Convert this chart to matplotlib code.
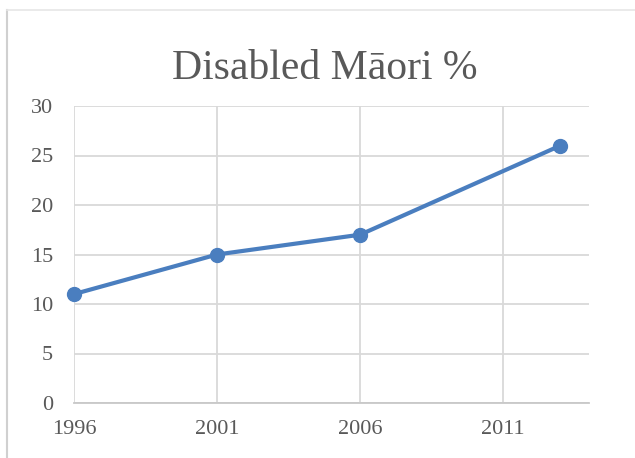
import matplotlib
matplotlib.use("Agg")
import matplotlib.pyplot as plt
from matplotlib.lines import Line2D

years = [1996, 2001, 2006, 2013]
values = [11, 15, 17, 26]
xticks = [1996, 2001, 2006, 2011]
yticks = [0, 5, 10, 15, 20, 25, 30]
title = "Disabled Māori %"

W, H = 635, 458
fig = plt.figure(figsize=(W / 100, H / 100), dpi=100)
fig.patch.set_facecolor("white")

# chart-area border
fig.add_artist(Line2D([7 / W, 7 / W], [0, 1 - 10 / H], transform=fig.transFigure, color="#d0d0d0", lw=1.5))
fig.add_artist(Line2D([7 / W, 1], [1 - 10 / H, 1 - 10 / H], transform=fig.transFigure, color="#e6e6e6", lw=1.2))

ax = fig.add_axes([74 / W, (H - 403) / H, (589 - 74) / W, (403 - 106) / H])
ax.plot(years, values, color="#4a7ebf", lw=3.0, marker="o", markersize=10,
        solid_capstyle="round", zorder=3, clip_on=False)

ax.set_xlim(1996, 2014)
ax.set_ylim(0, 30)
ax.set_xticks(xticks)
ax.set_yticks(yticks)
ax.grid(True, color="#d9d9d9", lw=1.3)
ax.set_axisbelow(True)
for s in ["top", "right", "left"]:
    ax.spines[s].set_visible(False)
ax.spines["bottom"].set_color("#c8c8c8")
ax.spines["bottom"].set_linewidth(1.3)
ax.tick_params(length=0, labelsize=16, labelcolor="#595959")
ax.tick_params(axis="y", pad=15)
ax.tick_params(axis="x", pad=12)
for lab in ax.get_xticklabels() + ax.get_yticklabels():
    lab.set_family("Liberation Serif")

fig.text(325 / W, 1 - 79 / H, title, ha="center", va="baseline",
         fontsize=30, color="#595959", family="Liberation Serif")

fig.savefig("out.png", dpi=100, facecolor="white")
